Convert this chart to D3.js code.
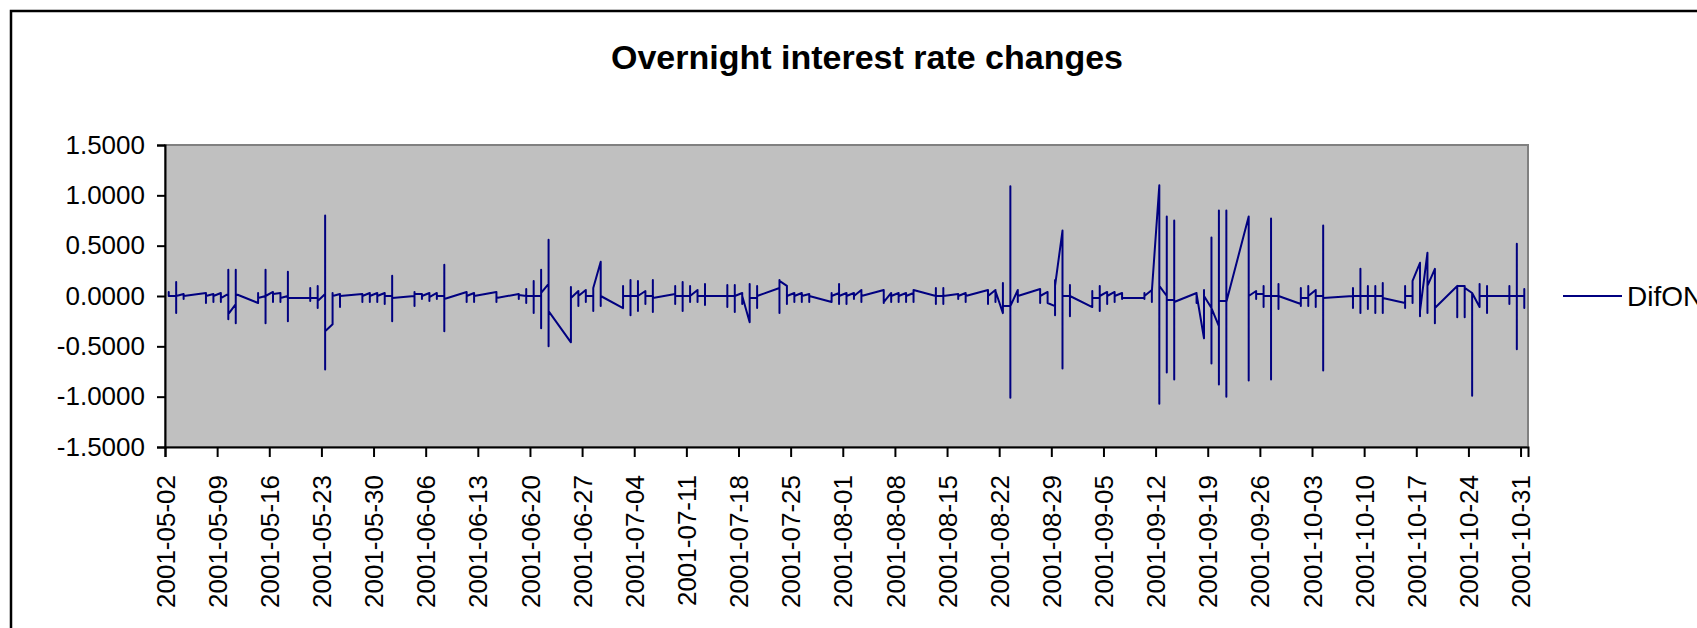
<!DOCTYPE html>
<meta charset="utf-8">
<script src="https://d3js.org/d3.v7.min.js"></script>
<style>
  body { margin: 0; background: #fff; }
  svg { display: block; font-family: "Liberation Sans", Arial, sans-serif; }
</style>
<body>
<div id="chart"></div>
<script>
  // trading days and the DifON readings logged on each (several per day)
  var dates = [
    "2001-05-02", "2001-05-03", "2001-05-04",
    "2001-05-07", "2001-05-08", "2001-05-09", "2001-05-10", "2001-05-11",
    "2001-05-14", "2001-05-15", "2001-05-16", "2001-05-17", "2001-05-18",
    "2001-05-21", "2001-05-22", "2001-05-23", "2001-05-24", "2001-05-25",
    "2001-05-28", "2001-05-29", "2001-05-30", "2001-05-31", "2001-06-01",
    "2001-06-04", "2001-06-05", "2001-06-06", "2001-06-07", "2001-06-08",
    "2001-06-11", "2001-06-12", "2001-06-15",
    "2001-06-18", "2001-06-19", "2001-06-20", "2001-06-21", "2001-06-22",
    "2001-06-25", "2001-06-26", "2001-06-27", "2001-06-28", "2001-06-29",
    "2001-07-02", "2001-07-03", "2001-07-04", "2001-07-05", "2001-07-06",
    "2001-07-09", "2001-07-10", "2001-07-11", "2001-07-12", "2001-07-13",
    "2001-07-16", "2001-07-17", "2001-07-18", "2001-07-19", "2001-07-20",
    "2001-07-23", "2001-07-24", "2001-07-25", "2001-07-26", "2001-07-27",
    "2001-07-30", "2001-07-31", "2001-08-01", "2001-08-02", "2001-08-03",
    "2001-08-06", "2001-08-07", "2001-08-08", "2001-08-09", "2001-08-10",
    "2001-08-13", "2001-08-14", "2001-08-16", "2001-08-17",
    "2001-08-20", "2001-08-21", "2001-08-22", "2001-08-23", "2001-08-24",
    "2001-08-27", "2001-08-28", "2001-08-29", "2001-08-30", "2001-08-31",
    "2001-09-03", "2001-09-04", "2001-09-05", "2001-09-06", "2001-09-07",
    "2001-09-10", "2001-09-11", "2001-09-12", "2001-09-13", "2001-09-14",
    "2001-09-17", "2001-09-18", "2001-09-19", "2001-09-20", "2001-09-21",
    "2001-09-24", "2001-09-25", "2001-09-26", "2001-09-27", "2001-09-28",
    "2001-10-01", "2001-10-02", "2001-10-03", "2001-10-04",
    "2001-10-08", "2001-10-09", "2001-10-10", "2001-10-11", "2001-10-12",
    "2001-10-15", "2001-10-16", "2001-10-17", "2001-10-18", "2001-10-19",
    "2001-10-22", "2001-10-23", "2001-10-24", "2001-10-25", "2001-10-26",
    "2001-10-29", "2001-10-30", "2001-10-31"
  ];

  var dayValues = [
    [0.0, 0.04, 0.0], [0.0, 0.14, -0.17, 0.0], [0.02, -0.03, 0.0],
    [0.03, -0.07, 0.0], [0.02, -0.06, 0.0], [0.03, -0.06, -0.02], [0.02, 0.26, -0.23, -0.18], [-0.08, 0.26, -0.27, 0.02],
    [-0.07, 0.03, -0.04, -0.02], [0.0, 0.26, -0.27, 0.0], [0.04, -0.06, 0.02], [0.03, -0.06, -0.02], [0.0, 0.24, -0.25, -0.02],
    [-0.02, 0.08, -0.05, -0.02], [-0.02, 0.1, -0.12, 0.03, -0.05], [0.02, 0.80, -0.73, -0.35], [-0.28, 0.03, 0.0], [0.02, -0.11, 0.0],
    [0.02, -0.06, 0.0], [0.03, -0.06, 0.0], [0.03, -0.06, 0.0], [0.03, -0.08, 0.0], [0.0, 0.2, -0.25, -0.02],
    [0.0, 0.04, -0.1, 0.02], [0.02, -0.03, 0.0], [0.03, -0.05, 0.03, -0.01], [0.03, -0.03, 0.0], [0.0, 0.31, -0.35, -0.03],
    [0.04, -0.06, 0.0], [0.03, -0.06, 0.0], [0.04, -0.06, -0.02],
    [0.02, -0.03, 0.01], [0.0, 0.07, -0.07, 0.0], [0.0, 0.15, -0.17, 0.0], [0.0, 0.26, -0.32, 0.03], [0.12, 0.56, -0.5, -0.15],
    [-0.46, 0.09, -0.02], [0.05, -0.1, 0.0], [0.06, -0.06, 0.0], [0.0, 0.08, -0.15, 0.08], [0.34, -0.1, 0.0],
    [-0.12, 0.1, -0.05, 0.0], [0.0, 0.16, -0.19, 0.0], [0.0, 0.15, -0.15, 0.0], [0.05, -0.08, 0.0], [0.0, 0.16, -0.16, -0.02],
    [0.02, 0.1, -0.08, 0.0], [0.0, 0.14, -0.15, 0.0], [0.0, 0.1, -0.06, 0.0], [0.06, -0.06, 0.0], [0.0, 0.12, -0.09, 0.0],
    [0.0, 0.11, -0.11, 0.0], [0.0, 0.11, -0.16, 0.0], [0.03, -0.08, 0.0], [-0.26, 0.12, -0.02], [-0.02, 0.1, -0.12, 0.0],
    [0.08, 0.16, -0.17, 0.15], [0.1, -0.08, 0.0], [0.03, -0.06, 0.0], [0.03, -0.06, 0.0], [0.02, -0.06, 0.0],
    [-0.06, 0.03, 0.0], [0.03, 0.12, -0.08, 0.0], [0.03, -0.08, 0.0], [0.03, -0.03, 0.0], [0.06, -0.06, 0.0],
    [0.06, -0.07, -0.06], [0.03, -0.06, 0.0], [0.03, -0.06, 0.0], [0.03, -0.06, 0.0], [0.03, -0.06, 0.06],
    [0.0, 0.08, -0.08, 0.0], [0.0, 0.08, -0.08, 0.0], [0.02, -0.03, 0.0], [0.03, -0.06, 0.0],
    [0.06, -0.08, 0.0], [0.06, -0.06, 0.05], [-0.17, 0.13, -0.1], [-0.1, 1.09, -1.01, -0.1], [0.06, -0.06, 0.0],
    [0.07, -0.07, 0.0], [0.04, -0.07], [-0.1, 0.16, -0.19, 0.1], [0.65, -0.72, 0.0], [0.0, 0.11, -0.2, 0.0],
    [-0.11, 0.05, -0.02], [-0.02, 0.1, -0.15, 0.0], [0.04, -0.08, 0.0], [0.04, -0.06, 0.0], [0.03, -0.03, -0.02],
    [-0.02, 0.03, -0.03, 0.0], [0.06, -0.06, 0.05], [1.1, -1.07, 0.1], [0.0, 0.79, -0.76, -0.04], [-0.04, 0.75, -0.83, -0.06],
    [0.03, -0.07, 0.02], [-0.42, 0.06, 0.0], [-0.12, 0.58, -0.67, -0.12], [-0.3, 0.85, -0.88, -0.05], [-0.05, 0.85, -1.0, -0.06],
    [0.79, -0.84, 0.0], [0.05, -0.03, 0.02], [0.02, 0.1, -0.11, 0.0], [0.0, 0.77, -0.83, 0.0], [0.0, 0.12, -0.13, 0.0],
    [-0.08, 0.08, -0.1, -0.02], [-0.02, 0.1, -0.1, 0.0], [0.06, -0.11, 0.0], [0.0, 0.7, -0.74, -0.02],
    [0.0, 0.08, -0.12, 0.0], [0.0, 0.27, -0.17, 0.0], [0.0, 0.1, -0.13, 0.0], [0.0, 0.1, -0.17, 0.0], [0.0, 0.13, -0.17, -0.02],
    [-0.07, 0.1, -0.12, 0.0], [0.0, 0.13, -0.07, 0.15], [0.33, -0.2, -0.15], [0.43, -0.17, 0.1], [0.27, -0.27, -0.12],
    [0.1, -0.21, 0.1], [0.1, -0.21, 0.08], [0.03, -0.99, 0.03], [-0.11, 0.12, 0.0], [0.0, 0.1, -0.17, 0.0],
    [0.0, 0.1, -0.08, 0.0], [0.0, 0.52, -0.53, 0.0], [0.0, 0.07, -0.12, 0.0]
  ];

  var yTicks = [-1.5, -1.0, -0.5, 0.0, 0.5, 1.0, 1.5];
  var xStart = "2001-05-02";
  var xEnd = "2001-11-01";
  var seriesName = "DifON";
  var chartTitle = "Overnight interest rate changes";

  var width = 1697, height = 628;
  var plot = { left: 165, top: 145, right: 1528, bottom: 447 };
  var lineColor = "#000080";

  var parseDate = d3.utcParse("%Y-%m-%d");
  var fmtDate = d3.utcFormat("%Y-%m-%d");
  var locale = d3.formatLocale({ decimal: ".", thousands: ",", grouping: [3], currency: ["", ""], minus: "-" });
  var fmtY = locale.format(".4f");

  // flatten: every reading on a day sits at that day's centre
  var points = [];
  dates.forEach(function (d, i) {
    dayValues[i].forEach(function (v) {
      points.push({ date: parseDate(d), value: v });
    });
  });

  var svg = d3.select("#chart").append("svg")
    .attr("width", width)
    .attr("height", height);

  // outer chart frame (runs off the right and bottom of the picture)
  svg.append("rect")
    .attr("x", 11).attr("y", 11)
    .attr("width", 1800).attr("height", 800)
    .attr("fill", "#fff")
    .attr("stroke", "#000")
    .attr("stroke-width", 2.5);

  var x = d3.scaleUtc()
    .domain([parseDate(xStart), parseDate(xEnd)])
    .range([plot.left, plot.right]);

  var y = d3.scaleLinear()
    .domain([-1.5, 1.5])
    .range([plot.bottom, plot.top]);

  // plot area
  svg.append("rect")
    .attr("x", plot.left).attr("y", plot.top)
    .attr("width", plot.right - plot.left)
    .attr("height", plot.bottom - plot.top)
    .attr("fill", "#c0c0c0")
    .attr("stroke", "#808080")
    .attr("stroke-width", 2);

  // title
  svg.append("text")
    .attr("x", 867)
    .attr("y", 69)
    .attr("text-anchor", "middle")
    .style("font-size", "34px")
    .style("font-weight", "bold")
    .text(chartTitle);

  // y axis
  var yAxis = svg.append("g")
    .attr("transform", "translate(" + plot.left + ",0)")
    .call(d3.axisLeft(y).tickValues(yTicks).tickFormat(fmtY).tickSize(8).tickPadding(12));
  yAxis.selectAll("text").style("font-size", "26px").attr("fill", "#000");
  yAxis.selectAll("line").attr("stroke", "#000").attr("stroke-width", 2);
  yAxis.select(".domain").attr("stroke", "#000").attr("stroke-width", 2);

  // x axis, one tick a week
  var weekTicks = d3.utcWednesday.range(parseDate(xStart), parseDate(xEnd));
  var xAxis = svg.append("g")
    .attr("transform", "translate(0," + plot.bottom + ")")
    .call(d3.axisBottom(x).tickValues(weekTicks).tickFormat(fmtDate).tickSize(10));
  xAxis.selectAll("line").attr("stroke", "#000").attr("stroke-width", 2);
  xAxis.select(".domain").attr("stroke", "#000").attr("stroke-width", 2);
  xAxis.selectAll("text")
    .style("font-size", "26px")
    .attr("fill", "#000")
    .attr("text-anchor", "end")
    .attr("transform", "rotate(-90)")
    .attr("x", -28)
    .attr("y", 0)
    .attr("dy", "0.35em");

  // series
  var halfDay = 12 * 3600 * 1000;
  var line = d3.line()
    .x(function (d) { return x(new Date(d.date.getTime() + halfDay)); })
    .y(function (d) { return y(d.value); });

  svg.append("path")
    .datum(points)
    .attr("d", line)
    .attr("fill", "none")
    .attr("stroke", lineColor)
    .attr("stroke-width", 2)
    .attr("stroke-linejoin", "round");

  // legend
  var legend = svg.append("g").attr("transform", "translate(1563," + y(0) + ")");
  legend.append("line")
    .attr("x1", 0).attr("x2", 59)
    .attr("y1", 0).attr("y2", 0)
    .attr("stroke", lineColor)
    .attr("stroke-width", 2);
  legend.append("text")
    .attr("x", 64)
    .attr("dy", "0.35em")
    .style("font-size", "28px")
    .text(seriesName);
</script>
</body>
